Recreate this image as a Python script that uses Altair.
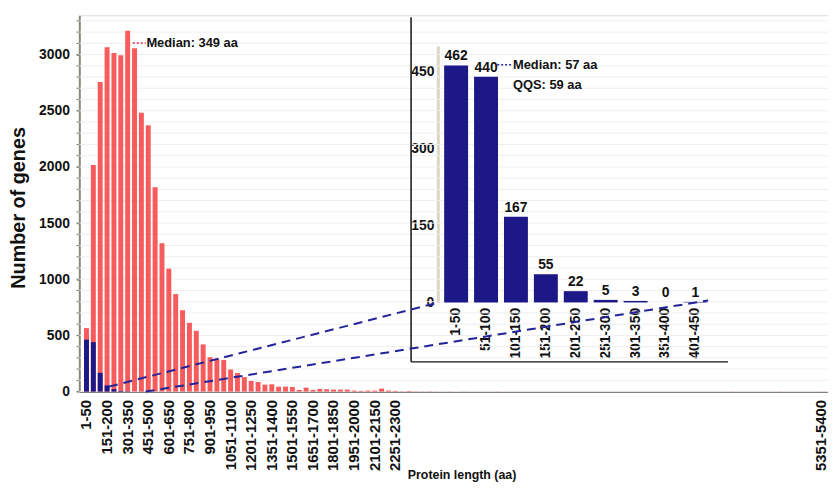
import altair as alt
import pandas as pd

# ---------------- data ----------------
bins_main = [f"{50 * i + 1}-{50 * (i + 1)}" for i in range(108)]
label_bins = [bins_main[i] for i in range(0, 46, 3)] + ["5351-5400"]

red_counts = [
    565, 2018, 2756, 3065, 3015, 2994, 3212, 3056, 2482, 2371,
    1818, 1321, 1094, 868, 724, 612, 541, 420, 306, 291,
    282, 197, 165, 129, 94, 85, 62, 65, 44, 44,
    41, 15, 35, 15, 24, 21, 18, 18, 18, 9,
    6, 9, 9, 26, 9, 6, 2, 5, 2, 1,
    2, 1, 0, 1, 0, 1, 0, 0, 0, 0,
    1, 0, 0, 0, 0, 0, 0, 0, 0, 0,
    0, 0, 0, 0, 0, 0, 0, 0, 0, 0,
    0, 0, 0, 0, 0, 0, 0, 0, 0, 0,
    0, 0, 0, 0, 1, 0, 0, 0, 0, 0,
    0, 1, 0, 0, 0, 0, 0, 1,
]

inset_bins = ["1-50", "51-100", "101-150", "151-200", "201-250",
              "251-300", "301-350", "351-400", "401-450"]
blue_counts = [462, 440, 167, 55, 22, 5, 3, 0, 1]

y_major = [0, 500, 1000, 1500, 2000, 2500, 3000]
y_minor = list(range(0, 3400, 100))
inset_y_ticks = [0, 150, 300, 450]

RED = "#F75B5B"
BLUE = "#1C1888"
FONT = "Liberation Sans Narrow, Arial Narrow, Liberation Sans, Arial, sans-serif"

main_df = pd.DataFrame({"bin": bins_main, "count": red_counts})
blue_df = pd.DataFrame({"bin": inset_bins, "count": blue_counts})
minor_df = pd.DataFrame({"count": y_minor})
dummy = pd.DataFrame({"a": [0]})

# ---------------- main chart ----------------
xmain = alt.X(
    "bin:N",
    scale=alt.Scale(domain=bins_main, paddingInner=0.28, paddingOuter=0.685),
    axis=alt.Axis(
        values=label_bins, labelAngle=-90, labelFont=FONT, labelFontSize=15,
        labelFontWeight="bold", labelColor="#111", labelPadding=8, ticks=False,
        domainColor="#555", domainWidth=1.5, labelOverlap=False,
        title="Protein length (aa)", titleFont=FONT, titleFontSize=12.5,
        titleFontWeight="bold", titleColor="#111", titleX=386, titleY=78,
        titleAlign="center", titleBaseline="top",
    ),
)
ymain = alt.Y(
    "count:Q",
    scale=alt.Scale(domain=[0, 3350], nice=False),
    axis=alt.Axis(
        values=y_major, format="d", labelOverlap=False, labelFont=FONT,
        labelFontSize=14, labelFontWeight="bold", labelColor="#111",
        labelPadding=7, tickSize=3, tickColor="#777", domainColor="#8c8878",
        domainWidth=2, grid=False,
        title="Number of genes", titleFont=FONT, titleFontSize=20,
        titleFontWeight="bold", titleColor="#111", titleX=-61, titleY=194,
        titleAlign="center", titleBaseline="middle", titleAngle=270,
    ),
)

grid = alt.Chart(minor_df).mark_rule(color="#eeeeee", strokeWidth=1).encode(
    y=alt.Y("count:Q")
)
minor_ticks = alt.Chart(minor_df).mark_rule(color="#888", strokeWidth=1).encode(
    y=alt.Y("count:Q"), x=alt.value(-3), x2=alt.value(0)
)
red = alt.Chart(main_df).mark_bar(color=RED).encode(x=xmain, y=ymain)
blue_main = alt.Chart(blue_df).mark_bar(color=BLUE).encode(
    x=alt.X("bin:N"), y=alt.Y("count:Q")
)
med_main = alt.Chart(pd.DataFrame({"bin": ["351-400"], "count": [3103],
                                   "t": ["Median: 349 aa"]})).mark_text(
    align="left", baseline="middle", dx=12, font=FONT, fontSize=13,
    fontWeight="bold", color="#111"
).encode(x="bin:N", y="count:Q", text="t:N")

main_layer = alt.layer(grid, red, blue_main, minor_ticks, med_main)

# ---------------- inset chart ----------------
xin = alt.X(
    "bin:N",
    scale=alt.Scale(domain=inset_bins, range=[365.4, 637.2],
                    paddingInner=0.2, paddingOuter=0.1),
    axis=alt.Axis(
        orient="bottom", offset=-90, labelAngle=-90, domain=False, ticks=False,
        labelPadding=5, labelFont=FONT, labelFontSize=14, labelFontWeight="bold",
        labelColor="#111", title=None, labelOverlap=False,
    ),
)
yin = alt.Y(
    "count:Q",
    scale=alt.Scale(domain=[0, 500], range=[290, 31], nice=False),
    axis=alt.Axis(
        orient="left", offset=-362, values=inset_y_ticks, grid=False,
        ticks=False, labelPadding=4, labelFont=FONT, labelFontSize=14,
        labelFontWeight="bold", labelColor="#111", domainColor="#dcd7c3",
        domainWidth=3, title=None, labelOverlap=False,
    ),
)
inset_bars = alt.Chart(blue_df).mark_bar(color=BLUE).encode(x=xin, y=yin)
inset_text = alt.Chart(blue_df).mark_text(
    baseline="bottom", dy=-2, font=FONT, fontSize=14, fontWeight="bold",
    color="#111"
).encode(x="bin:N", y="count:Q", text="count:Q")
inset_notes = alt.Chart(pd.DataFrame({
    "bin": ["101-150", "101-150"], "count": [463, 423],
    "t": ["Median: 57 aa", "QQS: 59 aa"]})).mark_text(
    align="left", baseline="middle", dx=-3, font=FONT, fontSize=13,
    fontWeight="bold", color="#111"
).encode(x="bin:N", y="count:Q", text="t:N")

inset_layer = alt.layer(inset_bars, inset_text, inset_notes)

# ---------------- decorations ----------------
def seg(x1, y1, x2, y2, color, width, dash=None):
    kw = dict(color=color, strokeWidth=width)
    if dash:
        kw["strokeDash"] = dash
    return alt.Chart(dummy).mark_rule(**kw).encode(
        x=alt.value(x1), y=alt.value(y1), x2=alt.value(x2), y2=alt.value(y2)
    )

decos = [
    seg(335, 2, 335, 350, "#111", 1.5),
    seg(335, 350, 655, 350, "#111", 1.5),
    seg(30, 375, 363, 290, "#24249a", 2, [9, 6]),
    seg(67, 380, 635, 288, "#24249a", 2, [9, 6]),
    seg(54, 28, 67, 28, "#e0203a", 1.5, [2, 2]),
    seg(422, 50, 437, 50, "#2a2aa0", 1.5, [2, 2]),
]

chart = alt.layer(main_layer, inset_layer, *decos).resolve_scale(
    x="independent", y="independent"
).properties(
    width=756, height=380,
    autosize=alt.AutoSizeParams(type="none"),
    padding={"left": 72, "top": 5, "right": 0, "bottom": 91},
).configure_view(stroke=None).configure(background="white")

chart.save("out.html", embed_options={"renderer": "svg", "actions": False})
